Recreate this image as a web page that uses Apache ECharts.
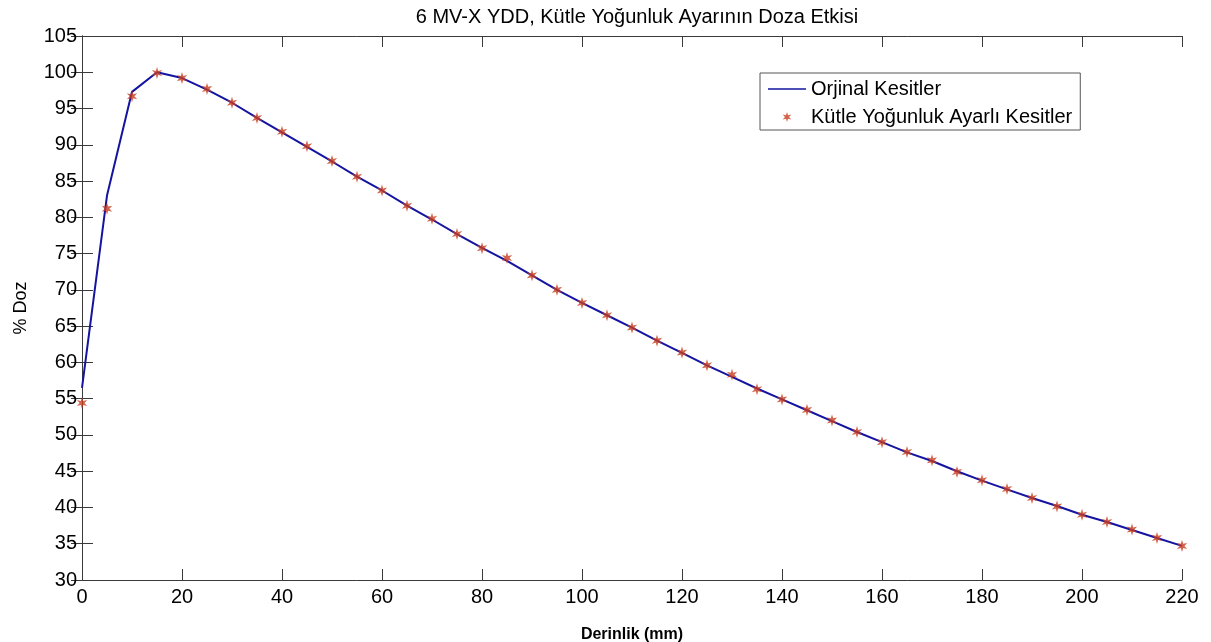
<!DOCTYPE html>
<html>
<head>
<meta charset="utf-8">
<script src="https://cdn.jsdelivr.net/npm/echarts@6/dist/echarts.min.js"></script>
<style>
  html, body { margin: 0; padding: 0; background: #fff; }
  #chart { width: 1211px; height: 642px; }
</style>
</head>
<body>
<div id="chart"></div>
<script>
// derinlik (mm)
var depth = [0, 5, 10, 15, 20, 25, 30, 35, 40, 45, 50, 55, 60, 65, 70, 75, 80, 85, 90, 95,
  100, 105, 110, 115, 120, 125, 130, 135, 140, 145, 150, 155, 160, 165, 170, 175, 180, 185,
  190, 195, 200, 205, 210, 215, 220];
// orjinal kesitler (line)
var orjinal = [56.5, 83.0, 97.3, 100.0, 99.2, 97.6, 95.8, 93.7, 91.7, 89.7, 87.7, 85.6, 83.7,
  81.6, 79.7, 77.7, 75.8, 74.0, 72.0, 70.0, 68.2, 66.5, 64.8, 63.0, 61.3, 59.6, 58.0, 56.4,
  54.9, 53.4, 51.9, 50.4, 49.0, 47.6, 46.4, 45.0, 43.7, 42.5, 41.3, 40.2, 39.0, 38.0, 36.9,
  35.8, 34.7];
// kütle yoğunluk ayarlı kesitler (markers)
var ayarli = [54.4, 81.2, 96.7, 99.9, 99.2, 97.7, 95.8, 93.7, 91.8, 89.8, 87.75, 85.6, 83.7,
  81.6, 79.8, 77.7, 75.75, 74.4, 72.0, 70.0, 68.2, 66.5, 64.8, 63.0, 61.35, 59.6, 58.3, 56.3,
  54.9, 53.45, 52.0, 50.4, 49.0, 47.65, 46.5, 44.9, 43.75, 42.55, 41.3, 40.15, 39.0, 38.0,
  36.95, 35.8, 34.7];
var xTicks = [0, 220, 20];
var yTicks = [30, 105, 5];

var axisColor = '#3a3a3a';
var lineColor = '#1414a0';
var markColor = '#c83c1e';
var font = 'Arial, "Liberation Sans", Helvetica, sans-serif';
var star = 'path://M10,0L12,6.54L18.66,5L14,10L18.66,15L12,13.46L10,20L8,13.46L1.34,15L6,10L1.34,5L8,6.54Z';
// plain line for the legend (tiny corner dots keep the box 38x10)
var legendLine = 'path://M0,0h0.01v0.01h-0.01Z M0,4.2H38V5.8H0Z M37.99,10h0.01v-0.01h-0.01Z';

function pairs(xs, ys) {
  return xs.map(function (x, i) { return [x, ys[i]]; });
}

var chart = echarts.init(document.getElementById('chart'));
chart.setOption({
  animation: false,
  backgroundColor: '#fff',
  textStyle: { fontFamily: font },
  title: {
    text: '6 MV-X YDD, Kütle Yoğunluk Ayarının Doza Etkisi',
    left: 632, textAlign: 'center', top: 2,
    textStyle: { fontSize: 20, fontWeight: 'normal', color: '#000', fontFamily: font }
  },
  legend: {
    orient: 'vertical',
    left: 760, top: 73,
    backgroundColor: '#fff',
    borderColor: '#555', borderWidth: 1, borderRadius: 0,
    padding: [6, 8, 3, 8],
    itemGap: 8,
    itemWidth: 38, itemHeight: 10,
    textStyle: { fontSize: 20, color: '#000', lineHeight: 20, fontFamily: font },
    data: [
      { name: 'Orjinal Kesitler', icon: legendLine, itemStyle: { color: lineColor } },
      { name: 'Kütle Yoğunluk Ayarlı Kesitler' }
    ]
  },
  grid: { left: 82, right: 29, top: 36, bottom: 62, outerBoundsMode: 'none' },
  xAxis: [{
    type: 'value', min: xTicks[0], max: xTicks[1], interval: xTicks[2],
    name: 'Derinlik (mm)', nameLocation: 'middle', nameGap: 47,
    nameTextStyle: { fontSize: 16, fontWeight: 'bold', color: '#000' },
    axisLine: { lineStyle: { color: axisColor, width: 1 } },
    axisTick: { inside: true, length: 11, lineStyle: { color: axisColor } },
    axisLabel: { fontSize: 20, color: '#000', margin: 7 },
    splitLine: { show: false }
  }, {
    type: 'value', position: 'top', min: xTicks[0], max: xTicks[1], interval: xTicks[2],
    axisLine: { show: true, lineStyle: { color: axisColor, width: 1 } },
    axisTick: { inside: true, length: 11, lineStyle: { color: axisColor } },
    axisLabel: { show: false },
    splitLine: { show: false }
  }],
  yAxis: [{
    type: 'value', min: yTicks[0], max: yTicks[1], interval: yTicks[2],
    name: '% Doz', nameLocation: 'middle', nameGap: 52,
    nameTextStyle: { fontSize: 18, color: '#000' },
    axisLine: { show: true, lineStyle: { color: axisColor, width: 1 } },
    axisTick: { show: true, inside: true, length: 11, lineStyle: { color: axisColor } },
    axisLabel: { fontSize: 20, color: '#000', margin: 5 },
    splitLine: { show: false }
  }, {
    type: 'value', position: 'right', min: yTicks[0], max: yTicks[1], interval: yTicks[2],
    axisLine: { show: true, lineStyle: { color: axisColor, width: 1 } },
    axisTick: { show: true, inside: true, length: 11, lineStyle: { color: axisColor } },
    axisLabel: { show: false },
    splitLine: { show: false }
  }],
  series: [{
    name: 'Orjinal Kesitler',
    type: 'line',
    symbol: 'none',
    lineStyle: { color: lineColor, width: 2 },
    itemStyle: { color: lineColor },
    data: pairs(depth, orjinal),
    z: 2
  }, {
    name: 'Kütle Yoğunluk Ayarlı Kesitler',
    type: 'scatter',
    symbol: star,
    symbolSize: 12,
    symbolKeepAspect: true,
    itemStyle: { color: markColor },
    data: pairs(depth, ayarli),
    z: 3
  }]
});
</script>
</body>
</html>
